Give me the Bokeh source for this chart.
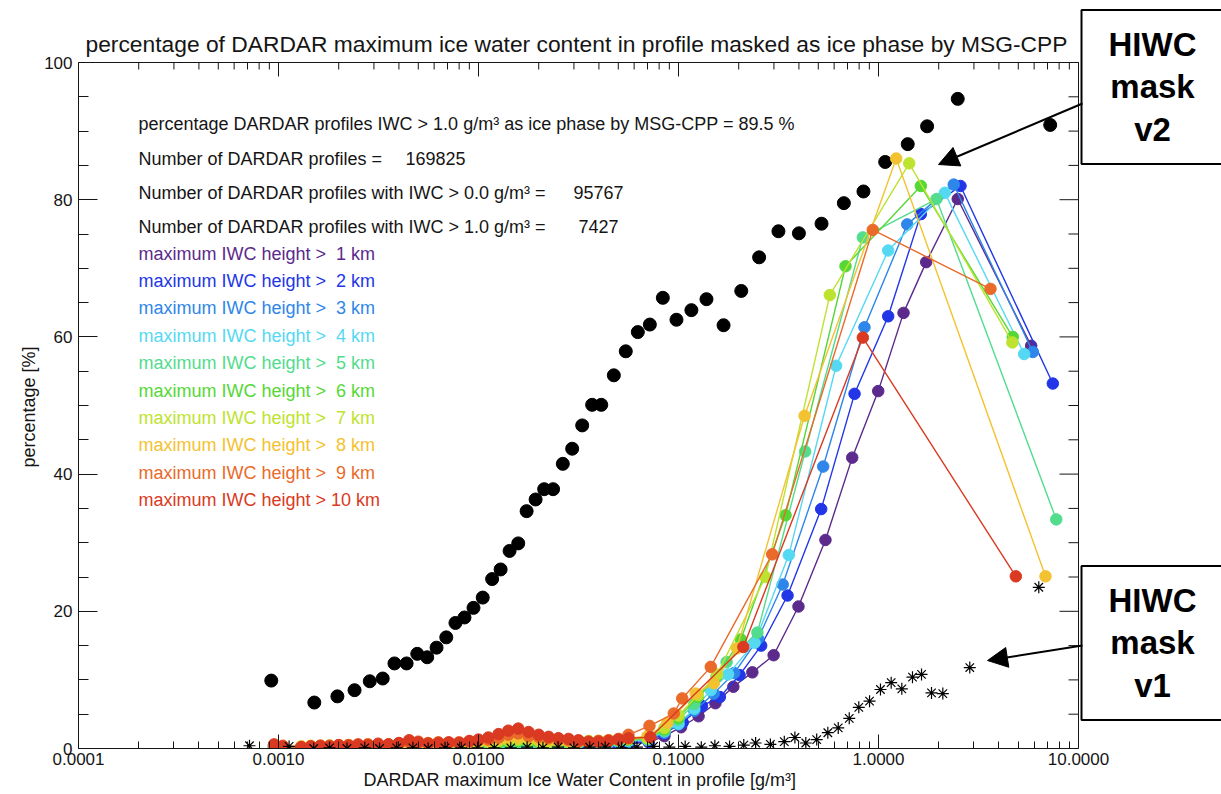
from bokeh.plotting import figure
from bokeh.models import (Label, Arrow, NormalHead, FixedTicker, PrintfTickFormatter, Title)
from bokeh.embed import file_html
from bokeh.resources import INLINE

# ---------------- data ----------------
BLACK_X = [0.00092, 0.00151, 0.00197, 0.0024, 0.00286, 0.00332, 0.0038, 0.00437, 0.00494, 0.00554,
           0.00617, 0.0069, 0.00767, 0.00851, 0.00944, 0.0105, 0.0117, 0.0129, 0.0143, 0.0158,
           0.0174, 0.0193, 0.0213, 0.0236, 0.0264, 0.0294, 0.033, 0.037, 0.0411, 0.0475,
           0.0545, 0.0626, 0.0719, 0.0835, 0.0977, 0.116, 0.138, 0.168, 0.206, 0.253,
           0.316, 0.4, 0.519, 0.671, 0.841, 1.08, 1.4, 1.75, 2.49, 7.22]
BLACK_Y = [9.9, 6.7, 7.6, 8.5, 9.8, 10.2, 12.4, 12.4, 13.8, 13.3,
           14.7, 16.2, 18.3, 19.1, 20.5, 22.0, 24.7, 26.1, 28.8, 29.9,
           34.6, 36.3, 37.8, 37.8, 41.5, 43.7, 47.1, 50.1, 50.1, 54.4,
           57.9, 60.7, 61.8, 65.7, 62.5, 63.9, 65.5, 61.7, 66.7, 71.6,
           75.4, 75.1, 76.5, 79.5, 81.2, 85.5, 88.1, 90.7, 94.7, 90.9]

STAR_X = [0.000716, 0.00113, 0.0015, 0.0018, 0.0022, 0.0027, 0.0032, 0.0039, 0.0047, 0.0056,
          0.0068, 0.0082, 0.0099, 0.012, 0.0145, 0.0175, 0.021, 0.025, 0.030, 0.036,
          0.043, 0.052, 0.062, 0.075, 0.09, 0.108, 0.13, 0.152, 0.18, 0.212,
          0.243, 0.288, 0.338, 0.382, 0.433, 0.491, 0.558, 0.629, 0.714, 0.797,
          0.902, 1.023, 1.157, 1.308, 1.479, 1.641, 1.841, 2.097, 2.86, 6.33]
STAR_Y = [0.4, 0.3, 0.0, 0.1, 0.0, 0.1, 0.0, 0.1, 0.1, 0.0,
          0.1, 0.1, 0.1, 0.1, 0.1, 0.2, 0.1, 0.2, 0.1, 0.2,
          0.2, 0.1, 0.2, 0.3, 0.2, 0.3, 0.2, 0.4, 0.3, 0.5,
          0.8, 0.6, 1.0, 1.6, 0.8, 1.3, 2.3, 3.0, 4.4, 6.0,
          6.9, 8.6, 9.6, 8.7, 10.4, 10.8, 8.1, 8.0, 11.8, 23.5]

LOW_X = [0.00095, 0.00105, 0.0013, 0.00145, 0.00162, 0.0018, 0.002, 0.00224, 0.0025, 0.0028,
         0.00315, 0.00355, 0.004, 0.0045, 0.005, 0.0056, 0.0063, 0.0071, 0.008, 0.009,
         0.01, 0.0112, 0.0126, 0.0141, 0.0158, 0.0178, 0.02, 0.0224, 0.0251, 0.0282,
         0.0316, 0.0355, 0.0398, 0.0447, 0.0501, 0.0562]

LOW_Y1 = [0.2, 0.1, 0.1, 0.1, 0.1, 0.2, 0.1, 0.2, 0.1, 0.2, 0.2, 0.1, 0.2, 0.2, 0.3, 0.2, 0.2, 0.3,
          0.2, 0.3, 0.3, 0.2, 0.3, 0.3, 0.4, 0.3, 0.3, 0.4, 0.3, 0.4, 0.4, 0.4, 0.5, 0.5, 0.6, 0.7]
LOW_Y2 = [0.2, 0.1, 0.1, 0.2, 0.1, 0.2, 0.2, 0.2, 0.2, 0.3, 0.2, 0.2, 0.3, 0.3, 0.2, 0.3, 0.3, 0.3,
          0.3, 0.4, 0.3, 0.4, 0.4, 0.3, 0.4, 0.4, 0.5, 0.4, 0.4, 0.5, 0.5, 0.5, 0.6, 0.7, 0.7, 0.8]
LOW_Y3 = [0.3, 0.1, 0.2, 0.2, 0.2, 0.2, 0.3, 0.2, 0.3, 0.3, 0.3, 0.3, 0.3, 0.4, 0.3, 0.4, 0.4, 0.4,
          0.4, 0.5, 0.4, 0.5, 0.5, 0.5, 0.6, 0.5, 0.6, 0.5, 0.6, 0.6, 0.7, 0.7, 0.8, 0.8, 0.9, 1.0]
LOW_Y4 = [0.3, 0.2, 0.2, 0.2, 0.3, 0.2, 0.3, 0.3, 0.3, 0.4, 0.3, 0.4, 0.4, 0.4, 0.5, 0.4, 0.5, 0.5,
          0.5, 0.6, 0.5, 0.6, 0.6, 0.7, 0.7, 0.6, 0.7, 0.6, 0.7, 0.7, 0.8, 0.8, 0.8, 0.9, 1.0, 1.1]
LOW_Y5 = [0.4, 0.2, 0.2, 0.3, 0.3, 0.3, 0.3, 0.4, 0.3, 0.4, 0.4, 0.4, 0.5, 0.5, 0.5, 0.6, 0.5, 0.6,
          0.6, 0.7, 0.7, 0.7, 0.8, 0.8, 0.9, 0.8, 0.8, 0.7, 0.8, 0.8, 0.9, 0.9, 0.9, 1.0, 1.1, 1.2]
LOW_Y6 = [0.5, 0.3, 0.2, 0.3, 0.3, 0.4, 0.3, 0.4, 0.4, 0.5, 0.4, 0.5, 0.5, 0.6, 0.6, 0.6, 0.7, 0.6,
          0.7, 0.8, 0.8, 0.9, 0.9, 1.0, 1.1, 1.0, 0.9, 0.9, 0.9, 0.9, 1.0, 1.0, 1.0, 1.1, 1.2, 1.3]
LOW_Y7 = [0.5, 0.3, 0.3, 0.3, 0.4, 0.4, 0.4, 0.5, 0.4, 0.5, 0.5, 0.5, 0.6, 0.7, 0.7, 0.6, 0.7, 0.7,
          0.8, 0.8, 0.9, 1.0, 1.1, 1.2, 1.3, 1.2, 1.1, 1.0, 1.0, 1.0, 1.0, 1.1, 1.1, 1.2, 1.3, 1.4]
LOW_Y8 = [0.5, 0.3, 0.3, 0.4, 0.4, 0.4, 0.5, 0.5, 0.5, 0.6, 0.5, 0.6, 0.7, 0.8, 0.8, 0.7, 0.8, 0.8,
          0.8, 0.9, 1.0, 1.1, 1.3, 1.5, 1.6, 1.5, 1.3, 1.2, 1.1, 1.1, 1.0, 1.0, 1.1, 1.2, 1.3, 1.5]
LOW_Y9 = [0.5, 0.4, 0.2, 0.3, 0.3, 0.4, 0.3, 0.5, 0.4, 0.6, 0.5, 0.6, 0.7, 0.9, 1.0, 0.8, 0.9, 0.8,
          0.9, 1.0, 1.2, 1.3, 1.6, 2.0, 2.2, 1.8, 1.7, 1.5, 1.4, 1.2, 1.0, 0.9, 1.1, 1.2, 1.4, 2.0]
LOW_Y10 = [0.6, 0.3, 0.2, 0.3, 0.4, 0.3, 0.5, 0.4, 0.6, 0.5, 0.7, 0.6, 0.8, 1.2, 0.9, 0.7, 0.8, 0.9,
           0.8, 1.1, 1.3, 1.6, 2.1, 2.6, 2.9, 2.4, 2.0, 1.7, 1.5, 1.4, 1.2, 1.0, 1.0, 1.1, 1.3, 1.5]

H1_X = [0.071, 0.085, 0.103, 0.126, 0.153, 0.188, 0.234, 0.299, 0.398, 0.543, 0.739, 0.997, 1.334, 1.732, 2.49, 5.80]
H1_Y = [0.9, 1.8, 3.1, 4.7, 6.6, 9.0, 11.1, 13.6, 20.7, 30.4, 42.4, 52.1, 63.5, 70.9, 80.1, 58.7]
H2_X = [0.071, 0.085, 0.105, 0.131, 0.161, 0.202, 0.259, 0.351, 0.517, 0.759, 1.118, 1.628, 2.57, 7.44]
H2_Y = [1.0, 2.2, 3.8, 6.2, 7.5, 10.7, 15.0, 22.3, 34.9, 51.7, 63.0, 77.9, 82.0, 53.2]
H3_X = [0.07, 0.085, 0.1, 0.12, 0.15, 0.19, 0.25, 0.332, 0.529, 0.851, 1.392, 2.378, 5.91]
H3_Y = [1.2, 2.3, 3.5, 5.5, 8.0, 11.0, 16.0, 23.9, 41.1, 61.4, 76.4, 82.2, 57.8]
H4_X = [0.07, 0.085, 0.1, 0.12, 0.145, 0.177, 0.24, 0.356, 0.614, 1.118, 2.145, 5.35]
H4_Y = [1.3, 2.5, 3.6, 5.8, 8.5, 10.8, 15.4, 28.2, 55.8, 72.6, 81.0, 57.5]
H5_X = [0.07, 0.085, 0.1, 0.12, 0.174, 0.248, 0.43, 0.835, 1.95, 7.74]
H5_Y = [1.4, 2.6, 4.2, 6.5, 12.6, 16.9, 43.3, 74.5, 80.1, 33.4]
H6_X = [0.07, 0.085, 0.1, 0.125, 0.155, 0.205, 0.343, 0.684, 1.628, 4.69]
H6_Y = [1.5, 2.8, 4.5, 7.5, 10.5, 15.9, 34.0, 70.3, 82.0, 60.0]
H7_X = [0.07, 0.085, 0.1, 0.125, 0.156, 0.272, 0.571, 1.424, 4.67]
H7_Y = [1.5, 3.0, 4.8, 7.8, 10.8, 25.0, 66.1, 85.3, 59.2]
H8_X = [0.07, 0.088, 0.122, 0.15, 0.196, 0.427, 1.226, 6.84]
H8_Y = [1.8, 3.75, 8.0, 9.5, 14.6, 48.5, 86.0, 25.1]
H9_X = [0.0716, 0.0947, 0.1044, 0.145, 0.294, 0.936, 3.63]
H9_Y = [3.3, 5.1, 7.3, 11.9, 28.3, 75.6, 67.0]
H10_X = [0.0724, 0.211, 0.835, 4.86]
H10_Y = [1.65, 14.8, 59.9, 25.1]

HEIGHTS = [1, 2, 3, 4, 5, 6, 7, 8, 9, 10]
COLORS = ["#5b2a8c", "#2236e8", "#2e86ea", "#55d9f2", "#52dc8e",
          "#55d836", "#bde32e", "#f3c230", "#ea6a2a", "#da3a22"]
LOW_YS = [LOW_Y1, LOW_Y2, LOW_Y3, LOW_Y4, LOW_Y5, LOW_Y6, LOW_Y7, LOW_Y8, LOW_Y9, LOW_Y10]
HI_XS = [H1_X, H2_X, H3_X, H4_X, H5_X, H6_X, H7_X, H8_X, H9_X, H10_X]
HI_YS = [H1_Y, H2_Y, H3_Y, H4_Y, H5_Y, H6_Y, H7_Y, H8_Y, H9_Y, H10_Y]

X_TICKS = [1e-4, 1e-3, 1e-2, 1e-1, 1.0, 10.0]
Y_TICKS = [0, 20, 40, 60, 80, 100]

TITLE = "percentage of DARDAR maximum ice water content in profile masked as ice phase by MSG-CPP"
X_LABEL = "DARDAR maximum Ice Water Content in profile [g/m\u00b3]"
Y_LABEL = "percentage [%]"
INFO = ["percentage DARDAR profiles IWC > 1.0 g/m\u00b3 as ice phase by MSG-CPP = 89.5 %",
        "Number of DARDAR profiles =",
        "Number of DARDAR profiles with IWC > 0.0 g/m\u00b3 =",
        "Number of DARDAR profiles with IWC > 1.0 g/m\u00b3 ="]
INFO_NUM = ["", "169825", "95767", "7427"]

# ---------------- layout ----------------
W, H = 1221, 794
FL, FT, FB = 78, 62, 748        # axis box left / top / bottom (px)
AX_R = 1078                      # axis box right (x = 10)
FONT = "Liberation Sans"
INK = "#151515"


def sx(px):
    return 10 ** ((px - 878) / 200.0)


def sy(py):
    return (FB - py) / ((FB - FT) / 100.0)


p = figure(width=W, height=H, x_axis_type="log", x_range=(1e-4, sx(W)), y_range=(0, sy(0)),
           title=None, output_backend="svg", toolbar_location=None,
           min_border_left=FL, min_border_right=0, min_border_top=0, min_border_bottom=H - FB)
p.background_fill_color = "white"
p.border_fill_color = "white"
p.outline_line_color = None
p.xgrid.visible = False
p.ygrid.visible = False

x_minor = [m * 10.0 ** e for e in range(-4, 1) for m in range(2, 10)]
y_minor = [v for v in range(5, 100, 5) if v % 20]


def style(ax, major, minor):
    ax.axis_line_color = INK
    ax.major_tick_in = major
    ax.major_tick_out = 0
    ax.minor_tick_in = minor
    ax.minor_tick_out = 0
    ax.major_tick_line_color = INK
    ax.minor_tick_line_color = INK
    ax.major_label_text_font = FONT
    ax.major_label_text_font_size = "17px"
    ax.major_label_text_color = INK


xax = p.xaxis[0]
xax.ticker = FixedTicker(ticks=X_TICKS, minor_ticks=x_minor)
xax.formatter = PrintfTickFormatter(format="%.4f")
xax.bounds = (X_TICKS[0], X_TICKS[-1])
style(xax, 14, 7)
xax.major_label_standoff = 4

yax = p.yaxis[0]
yax.ticker = FixedTicker(ticks=Y_TICKS, minor_ticks=y_minor)
yax.bounds = (Y_TICKS[0], Y_TICKS[-1])
style(yax, 19, 10)
yax.major_label_standoff = 6

p.add_layout(Title(text=X_LABEL, text_font=FONT, text_font_size="18px", text_font_style="normal",
                   text_color=INK, align="left", offset=285, standoff=0), "below")
p.add_layout(Title(text=Y_LABEL, text_font=FONT, text_font_size="18px", text_font_style="normal",
                   text_color=INK, align="left", offset=FB - 467, standoff=6), "left")

# top and right sides of the axis box, with inward ticks
YT = Y_TICKS[-1]
XR = X_TICKS[-1]
p.segment(x0=[X_TICKS[0]], y0=[YT], x1=[XR], y1=[YT], line_color=INK, line_width=1)
p.segment(x0=X_TICKS, y0=[YT] * len(X_TICKS), x1=X_TICKS, y1=[sy(FT + 14)] * len(X_TICKS),
          line_color=INK, line_width=1)
p.segment(x0=x_minor, y0=[YT] * len(x_minor), x1=x_minor, y1=[sy(FT + 7)] * len(x_minor),
          line_color=INK, line_width=1)
p.segment(x0=[XR], y0=[Y_TICKS[0]], x1=[XR], y1=[YT], line_color=INK, line_width=1)
p.segment(x0=[XR] * len(Y_TICKS), y0=Y_TICKS, x1=[sx(AX_R - 19)] * len(Y_TICKS), y1=Y_TICKS,
          line_color=INK, line_width=1)
p.segment(x0=[XR] * len(y_minor), y0=y_minor, x1=[sx(AX_R - 10)] * len(y_minor), y1=y_minor,
          line_color=INK, line_width=1)

# ---------------- marks ----------------
p.scatter(BLACK_X, BLACK_Y, size=13, color="black")
for col, ly, hx, hy in zip(COLORS, LOW_YS, HI_XS, HI_YS):
    xs = LOW_X + hx
    ys = ly + hy
    p.line(xs, ys, line_color=col, line_width=1.4)
    p.scatter(xs, ys, size=11.5, color=col)
p.scatter(STAR_X, STAR_Y, marker="asterisk", size=12, line_color="black", line_width=1.2)

# ---------------- texts ----------------
p.add_layout(Label(x=sx(85), y=sy(43), text=TITLE, text_font=FONT, text_font_size="22.8px",
                   text_baseline="middle", text_color=INK))

info_y = [123, 158, 192, 226]
for t, py in zip(INFO, info_y):
    p.add_layout(Label(x=sx(138), y=sy(py), text=t, text_font=FONT, text_font_size="18px",
                       text_baseline="middle", text_color=INK))
num_x = {"169825": 405, "95767": 573, "7427": 578}
for n, py in zip(INFO_NUM, info_y):
    if n:
        p.add_layout(Label(x=sx(num_x[n]), y=sy(py), text=n, text_font=FONT, text_font_size="18px",
                           text_baseline="middle", text_color=INK))

for i, (h, col) in enumerate(zip(HEIGHTS, COLORS)):
    txt = "maximum IWC height > " + ("\u00a0" + str(h) if h < 10 else str(h)) + " km"
    p.add_layout(Label(x=sx(138), y=sy(253 + 27.4 * i), text=txt, text_font=FONT,
                       text_font_size="18px", text_baseline="middle", text_color=col))

# annotation boxes and arrows
for txt, pyc in [("HIWC\nmask\nv2", 86.5), ("HIWC\nmask\nv1", 642.5)]:
    p.add_layout(Label(x=sx(1152), y=sy(pyc), text=txt, text_font=FONT, text_font_size="33px",
                       text_font_style="bold", text_align="center", text_baseline="middle",
                       text_line_height=1.15, text_color="black",
                       border_line_color="black", border_line_width=2,
                       background_fill_color="white",
                       padding=dict(left=27, right=27, top=16, bottom=16)))

p.add_layout(Arrow(x_start=sx(1082), y_start=sy(103), x_end=sx(938), y_end=sy(164),
                   line_width=2, line_color="black",
                   end=NormalHead(size=20, fill_color="black", line_color="black")))
p.add_layout(Arrow(x_start=sx(1082), y_start=sy(645), x_end=sx(987), y_end=sy(660),
                   line_width=2, line_color="black",
                   end=NormalHead(size=20, fill_color="black", line_color="black")))

open("out.html", "w").write(file_html(p, INLINE))
